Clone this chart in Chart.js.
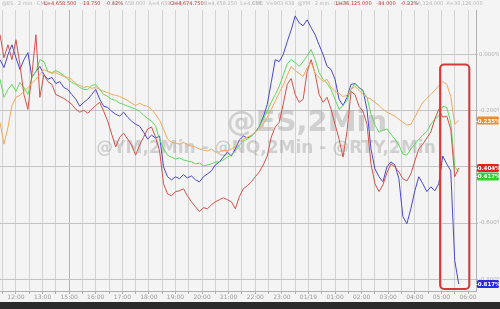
<!DOCTYPE html>
<html>
<head>
<meta charset="utf-8">
<script src="https://cdn.jsdelivr.net/npm/chart.js@4"></script>
<style>
  html, body { margin: 0; padding: 0; background: #2b2b2b; }
  #wrap { width: 500px; height: 302px; background: #f4f4f4; }
</style>
</head>
<body>
<div id="wrap"><canvas id="futChart" width="500" height="302"></canvas></div>
<script>
// time axis: one slot per label, samples every 0.15 slot (2-min bars thinned)
const hourLabels = ['12:00', '13:00', '15:00', '16:00', '17:00', '18:00', '19:00', '20:00', '21:00',
  '22:00', '23:00', '01/19', '01:00', '02:00', '03:00', '04:00', '05:00', '06:00'];
const startSlot = -0.6;
const slotStep = 0.15;

// % change
const nqValues = [
  -0.018, -0.046, 0.000, 0.035, -0.011, -0.053, -0.018, 0.007, -0.081, -0.060,
  -0.042, -0.071, -0.088, -0.081, -0.103, -0.096, -0.117, -0.124, -0.142, -0.159,
  -0.184, -0.170, -0.159, -0.142, -0.124, -0.159, -0.184, -0.188, -0.202, -0.212,
  -0.219, -0.205, -0.223, -0.237, -0.248, -0.255, -0.276, -0.301, -0.287, -0.297,
  -0.290, -0.400, -0.435, -0.446, -0.435, -0.442, -0.428, -0.439, -0.432, -0.446,
  -0.453, -0.435, -0.425, -0.414, -0.393, -0.382, -0.365, -0.347, -0.361, -0.336,
  -0.304, -0.290, -0.297, -0.290, -0.276, -0.255, -0.223, -0.177, -0.099, -0.018,
  -0.025, 0.000, 0.046, 0.088, 0.138, 0.113, 0.103, 0.124, 0.096, 0.071,
  0.035, 0.000, -0.042, -0.053, -0.088, -0.159, -0.181, -0.152, -0.106, -0.103,
  -0.117, -0.127, -0.195, -0.336, -0.407, -0.435, -0.453, -0.400, -0.382, -0.393,
  -0.442, -0.577, -0.602, -0.549, -0.485, -0.435, -0.460, -0.488, -0.471, -0.485,
  -0.460, -0.361, -0.389, -0.414, -0.733, -0.817
];
const esValues = [
  0.071, -0.011, 0.035, -0.018, 0.053, -0.035, -0.142, -0.195, -0.071, 0.071,
  -0.152, -0.071, -0.096, -0.106, -0.142, -0.149, -0.156, -0.166, -0.177, -0.195,
  -0.205, -0.198, -0.209, -0.195, -0.181, -0.170, -0.202, -0.237, -0.283, -0.329,
  -0.294, -0.280, -0.301, -0.322, -0.358, -0.322, -0.294, -0.265, -0.258, -0.294,
  -0.343, -0.460, -0.496, -0.503, -0.488, -0.485, -0.478, -0.503, -0.524, -0.542,
  -0.559, -0.545, -0.549, -0.535, -0.524, -0.517, -0.510, -0.517, -0.524, -0.549,
  -0.506, -0.478, -0.467, -0.453, -0.435, -0.418, -0.393, -0.361, -0.294, -0.258,
  -0.241, -0.177, -0.106, -0.085, -0.142, -0.170, -0.159, -0.060, -0.018, -0.067,
  -0.142, -0.170, -0.152, -0.195, -0.248, -0.301, -0.365, -0.273, -0.131, -0.142,
  -0.184, -0.202, -0.248, -0.389, -0.460, -0.488, -0.464, -0.421, -0.389, -0.400,
  -0.418, -0.442, -0.450, -0.425, -0.379, -0.336, -0.319, -0.297, -0.276, -0.230,
  -0.195, -0.223, -0.219, -0.265, -0.435, -0.404
];
const rtyValues = [
  -0.088, -0.152, -0.124, -0.106, -0.131, -0.099, -0.117, -0.142, -0.081, -0.060,
  -0.018, -0.025, -0.060, -0.064, -0.057, -0.064, -0.074, -0.088, -0.099, -0.106,
  -0.117, -0.124, -0.124, -0.110, -0.106, -0.124, -0.142, -0.149, -0.159, -0.163,
  -0.173, -0.177, -0.184, -0.188, -0.195, -0.202, -0.216, -0.227, -0.237, -0.255,
  -0.301, -0.336, -0.358, -0.365, -0.372, -0.368, -0.375, -0.379, -0.382, -0.389,
  -0.386, -0.396, -0.393, -0.389, -0.382, -0.382, -0.375, -0.365, -0.358, -0.343,
  -0.322, -0.308, -0.301, -0.290, -0.276, -0.255, -0.230, -0.202, -0.170, -0.142,
  -0.113, -0.074, -0.032, -0.018, -0.028, -0.042, -0.025, -0.004, 0.018, -0.018,
  -0.064, -0.088, -0.103, -0.124, -0.159, -0.195, -0.181, -0.163, -0.124, -0.103,
  -0.117, -0.131, -0.152, -0.212, -0.251, -0.276, -0.269, -0.265, -0.283, -0.301,
  -0.322, -0.354, -0.358, -0.336, -0.319, -0.301, -0.287, -0.273, -0.248, -0.230,
  -0.219, -0.184, -0.188, -0.241, -0.400, -0.417
];
const ymValues = [
  -0.241, -0.319, -0.258, -0.181, -0.152, -0.145, -0.131, -0.117, -0.103, -0.088,
  -0.071, -0.053, -0.060, -0.067, -0.064, -0.071, -0.078, -0.081, -0.088, -0.103,
  -0.110, -0.117, -0.113, -0.120, -0.117, -0.124, -0.131, -0.135, -0.142, -0.145,
  -0.149, -0.156, -0.163, -0.173, -0.181, -0.173, -0.181, -0.184, -0.195, -0.212,
  -0.234, -0.265, -0.301, -0.312, -0.315, -0.319, -0.312, -0.322, -0.326, -0.329,
  -0.336, -0.340, -0.343, -0.336, -0.347, -0.347, -0.340, -0.343, -0.336, -0.326,
  -0.312, -0.301, -0.294, -0.287, -0.276, -0.265, -0.248, -0.223, -0.195, -0.166,
  -0.135, -0.110, -0.074, -0.042, -0.057, -0.067, -0.078, -0.046, -0.028, -0.067,
  -0.081, -0.096, -0.088, -0.117, -0.131, -0.138, -0.149, -0.145, -0.124, -0.113,
  -0.127, -0.142, -0.152, -0.159, -0.170, -0.181, -0.195, -0.205, -0.212, -0.219,
  -0.230, -0.241, -0.251, -0.248, -0.223, -0.195, -0.170, -0.156, -0.142, -0.127,
  -0.110, -0.096, -0.106, -0.149, -0.248, -0.235
];

// last-value badges shown on the right axis
const lastLabels = ['-0.235%', '-0.404%', '-0.417%', '-0.817%'];
// red box drawn round the overnight drop (slots / %)
const boxSlots = [15.95, 17.05];
const boxRange = [-0.035, -0.835];

function toPoints(values) {
  return values.map((v, i) => ({ x: startSlot + i * slotStep, y: v }));
}

const lineSeries = [
  { label: '@YM', values: ymValues, color: '#f0a85a', badge: '#f08c28', last: lastLabels[0] },
  { label: '@ES', values: esValues, color: '#d2524a', badge: '#e02424', last: lastLabels[1] },
  { label: '@RTY', values: rtyValues, color: '#5fd85a', badge: '#34cc34', last: lastLabels[2] },
  { label: '@NQ', values: nqValues, color: '#4a48c8', badge: '#2a2ae0', last: lastLabels[3] }
];

const chartDecor = {
  id: 'chartDecor',
  beforeDatasetsDraw(chart) {
    const ctx = chart.ctx;
    const area = chart.chartArea;
    ctx.save();
    ctx.textAlign = 'center';
    ctx.textBaseline = 'middle';
    ctx.fillStyle = 'rgba(150,150,150,0.38)';
    ctx.font = 'bold 29px "DejaVu Sans"';
    ctx.fillText('@ES,2Min', area.left + 307, area.top + 113);
    ctx.font = 'bold 17px "DejaVu Sans"';
    ctx.fillText('@YM,2Min - @NQ,2Min - @RTY,2Min', area.left + 266, area.top + 139);
    ctx.restore();
  },
  afterDatasetsDraw(chart) {
    const ctx = chart.ctx;
    const xs = chart.scales.x;
    const ys = chart.scales.y;
    const area = chart.chartArea;

    // highlight box
    const bx1 = xs.getPixelForValue(boxSlots[0]);
    const bx2 = xs.getPixelForValue(boxSlots[1]);
    const by1 = ys.getPixelForValue(boxRange[0]);
    const by2 = ys.getPixelForValue(boxRange[1]);
    ctx.save();
    ctx.strokeStyle = '#d23a3a';
    ctx.lineWidth = 2;
    ctx.beginPath();
    ctx.roundRect(bx1, by1, bx2 - bx1, by2 - by1, 4);
    ctx.stroke();
    ctx.restore();

    // last value badges
    const badges = lineSeries.map(s => ({
      y: ys.getPixelForValue(s.values[s.values.length - 1]),
      color: s.badge,
      text: s.last
    })).sort((a, b) => a.y - b.y);
    for (let i = 1; i < badges.length; i++) {
      if (badges[i].y - badges[i - 1].y < 8.5) badges[i].y = badges[i - 1].y + 8.5;
    }
    ctx.save();
    ctx.font = 'bold 5.5px "DejaVu Sans"';
    ctx.textAlign = 'center';
    ctx.textBaseline = 'middle';
    badges.forEach(b => {
      ctx.fillStyle = b.color;
      ctx.beginPath();
      ctx.roundRect(area.right + 1, b.y - 4, 22, 8, 1.5);
      ctx.fill();
      ctx.fillStyle = '#ffffff';
      ctx.fillText(b.text, area.right + 12, b.y + 0.5);
    });
    ctx.restore();
  },
  afterDraw(chart) {
    const ctx = chart.ctx;
    ctx.save();
    ctx.font = '5px "DejaVu Sans"';
    ctx.textBaseline = 'middle';
    const parts = [
      ['@ES · 2 min · CME', '#b8b8b8', 2],
      ['L=4,658.500   -19.750   -0.42%', '#c03838', 44],
      ['H=4,658.000  A=4,659.250', '#b8b8b8', 112],
      ['O=4,674.750', '#c03838', 170],
      ['B=4,658.250  L=4,658.', '#b8b8b8', 204],
      ['CME  V=903,638  @YM · 2 min · CBOT', '#b8b8b8', 252],
      ['L=36,125.000   -84.000   -0.22%', '#c03838', 336],
      ['B=36,124.000  A=36,126.000', '#b8b8b8', 407]
    ];
    parts.forEach(p => {
      ctx.fillStyle = p[1];
      ctx.fillText(p[0], p[2], 4);
    });
    ctx.restore();
  }
};

const ctx = document.getElementById('futChart').getContext('2d');

new Chart(ctx, {
  type: 'line',
  data: {
    datasets: lineSeries.map(s => ({
      label: s.label,
      data: toPoints(s.values),
      borderColor: s.color,
      borderWidth: 1,
      pointRadius: 0,
      tension: 0,
      fill: false
    }))
  },
  options: {
    responsive: false,
    animation: false,
    devicePixelRatio: 1,
    layout: { padding: { top: 10, left: 0, right: 1, bottom: 0 } },
    scales: {
      x: {
        type: 'linear',
        min: -0.6,
        max: 17.3,
        afterFit: scale => { scale.height = 11; },
        border: { color: '#b0b0b0' },
        grid: {
          color: c => (c.tick && c.tick.value === 2 ? '#b4b4b4' : '#d2d2d2'),
          tickLength: 3,
          tickColor: '#b0b0b0'
        },
        ticks: {
          stepSize: 0.5,
          maxTicksLimit: 100,
          autoSkip: false,
          maxRotation: 0,
          includeBounds: false,
          padding: 0,
          color: '#9a9a9a',
          font: { size: 6, family: 'DejaVu Sans' },
          callback: v => (Number.isInteger(v) && hourLabels[v] ? hourLabels[v] : '')
        }
      },
      y: {
        position: 'right',
        min: -0.842,
        max: 0.159,
        afterFit: scale => { scale.width = 23; },
        border: { color: '#b0b0b0' },
        grid: { color: '#c4c4c4', tickLength: 2 },
        ticks: {
          stepSize: 0.2,
          maxTicksLimit: 100,
          autoSkip: false,
          includeBounds: false,
          padding: 1,
          color: '#b0b0b0',
          font: { size: 5.5, family: 'DejaVu Sans' },
          callback: v => (Math.abs(v) < 1e-9 ? '0.000%' : v.toFixed(3) + '%')
        }
      }
    },
    plugins: {
      legend: { display: false },
      tooltip: { enabled: false }
    }
  },
  plugins: [chartDecor]
});
</script>
</body>
</html>
